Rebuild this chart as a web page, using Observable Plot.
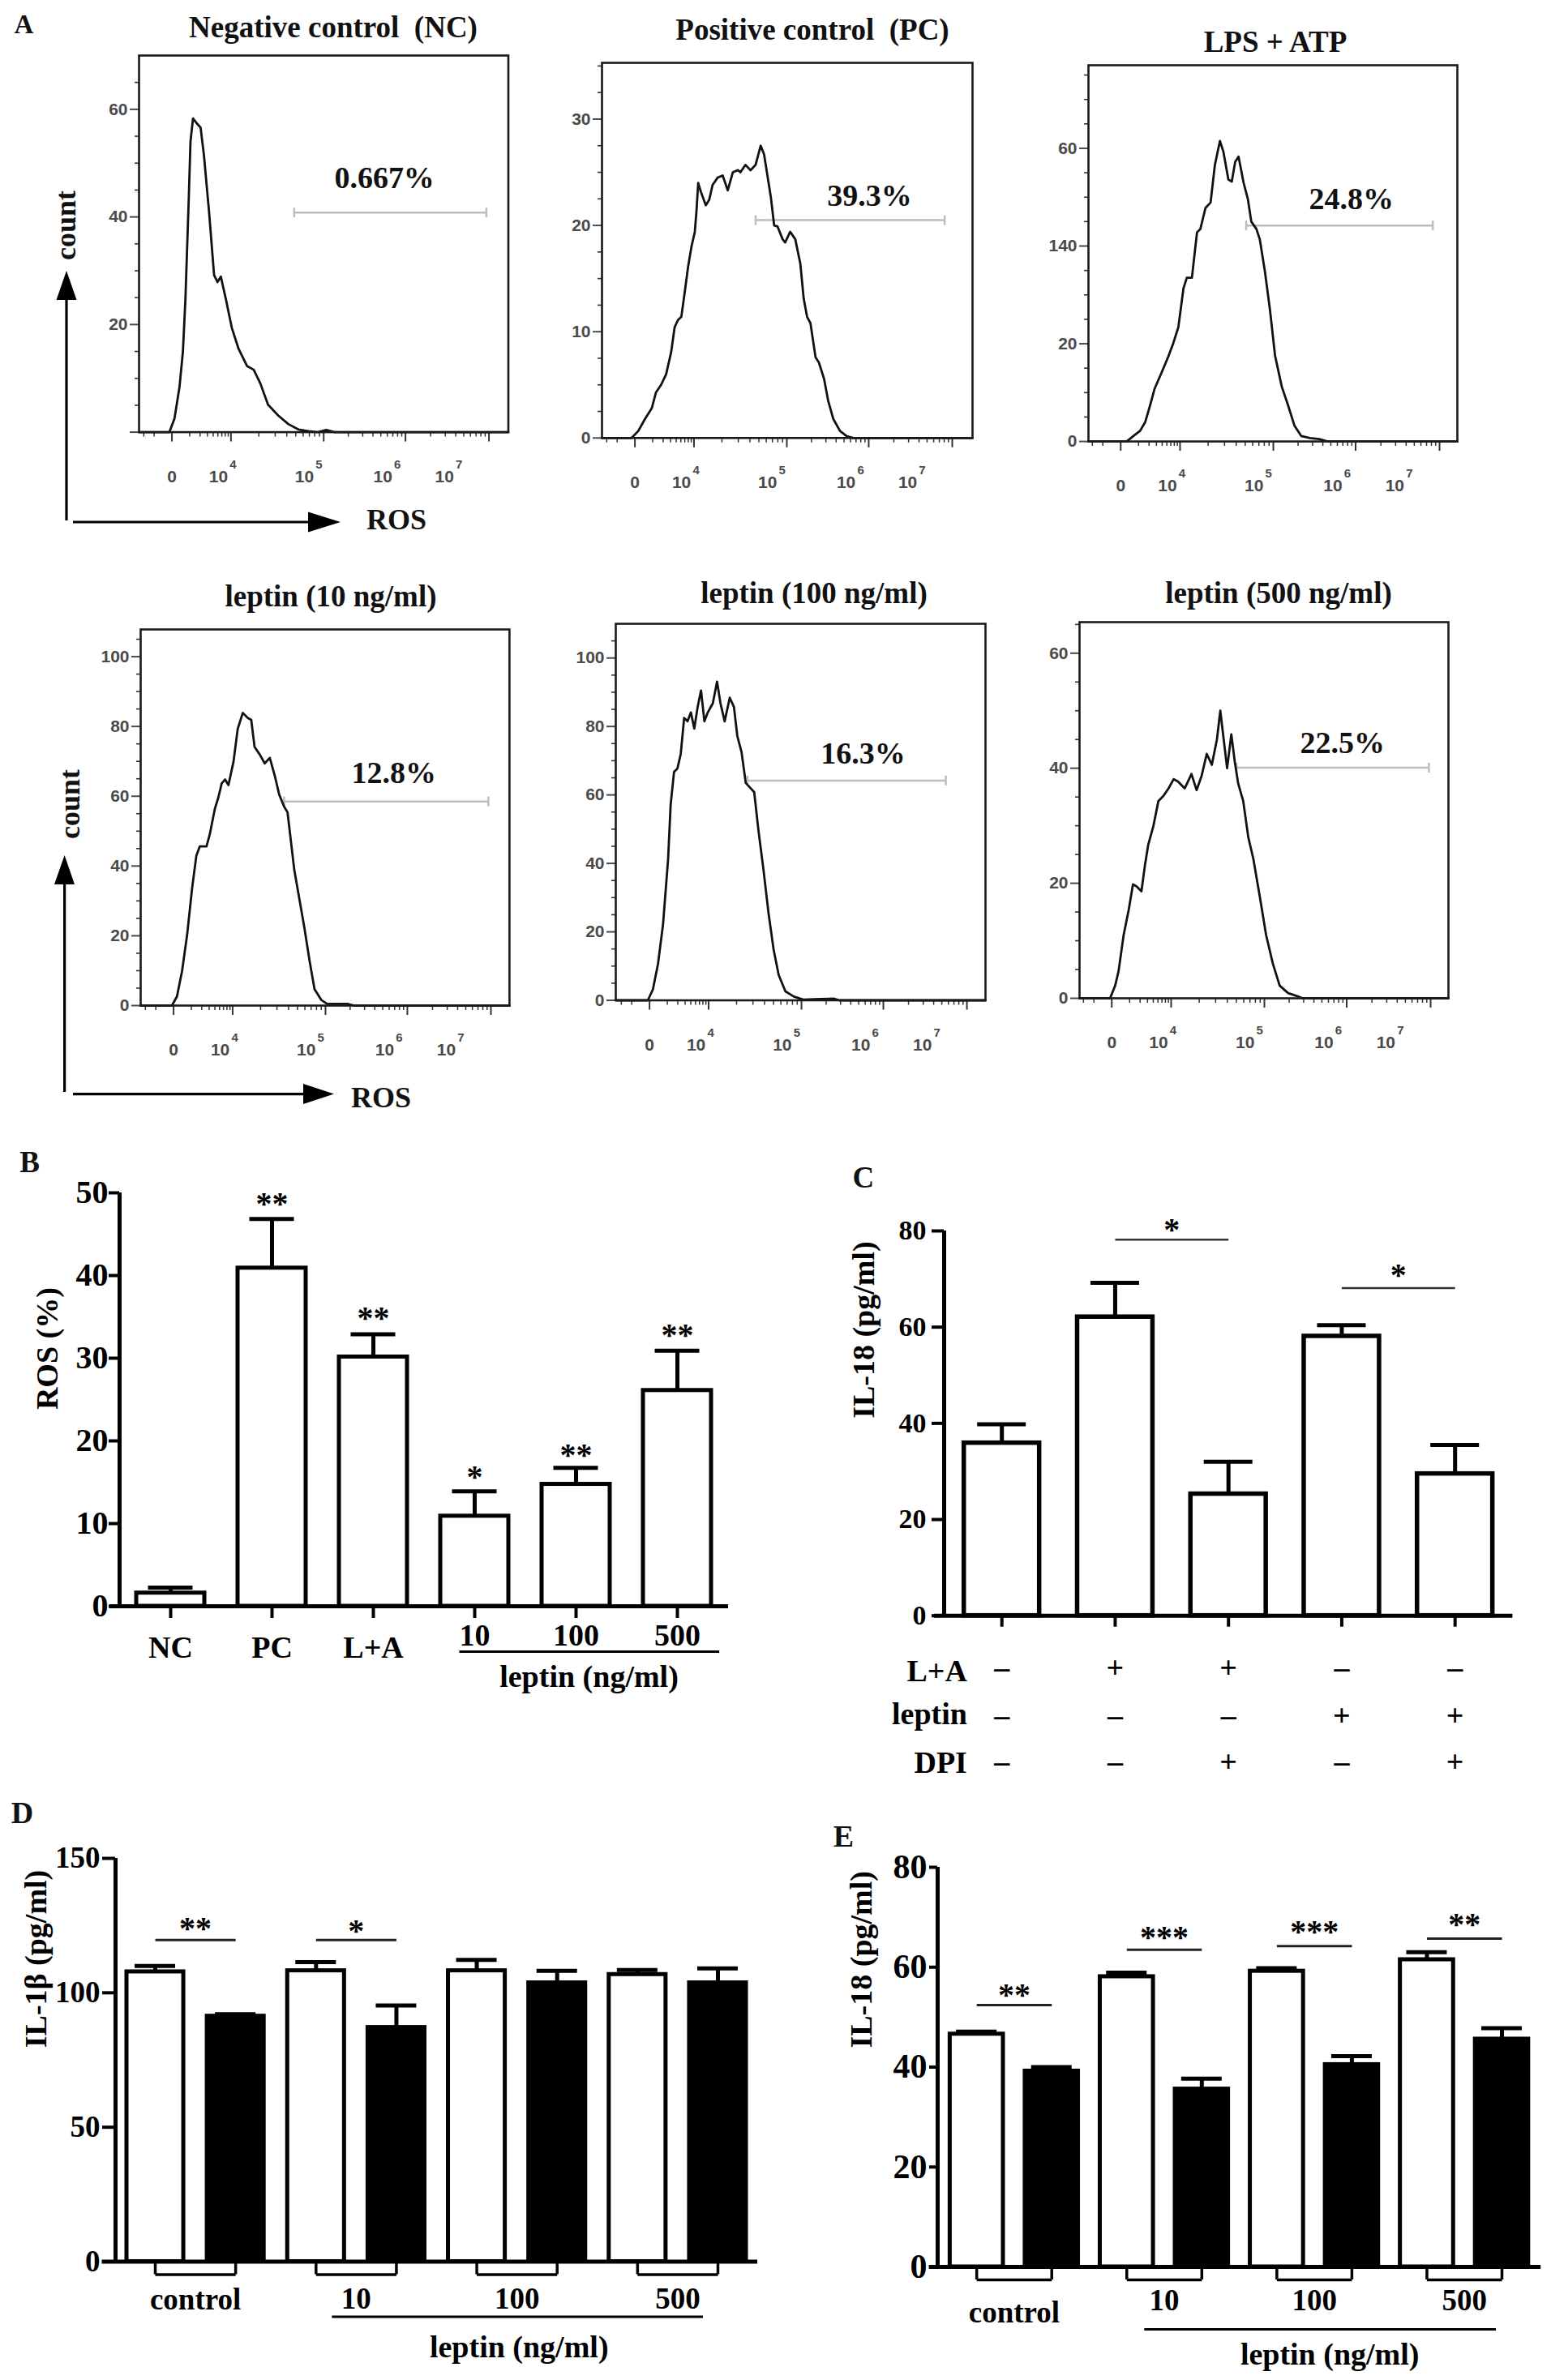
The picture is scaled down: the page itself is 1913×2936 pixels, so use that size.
<!DOCTYPE html>
<html>
<head>
<meta charset="utf-8">
<script src="https://cdn.jsdelivr.net/npm/d3@7"></script>
<script src="https://cdn.jsdelivr.net/npm/@observablehq/plot@0.6"></script>
<style>
  html, body { margin: 0; padding: 0; background: #fff; }
  body { width: 1913px; height: 2936px; overflow: hidden; }
  #root { position: relative; width: 1913px; height: 2936px; background: #fff; overflow: hidden; }
  .lbl { position: absolute; font-family: "Liberation Serif", "Times New Roman", serif; font-weight: bold; color: #111; white-space: pre; line-height: 1; transform: translate(-50%, -50%); }
</style>
</head>
<body>
<div id="root"></div>
<script>
// ======================= DATA =======================
// Panel A : ROS flow-cytometry histograms. x = ROS display channel (0 … 10^7 axis), y = count
const xDecadeTicks = [0, 70, 180, 277, 376];          // channel of 0, 10^4, 10^5, 10^6, 10^7 ticks
const xLabelPos  = [0, 60, 162, 255, 328];            // channel where the tick labels sit
const xLabelBase = ["0", "10", "10", "10", "10"];
const xLabelExp  = ["", "4", "5", "6", "7"];

const histTitles = ["Negative control  (NC)", "Positive control  (PC)", "LPS + ATP",
                    "leptin (10 ng/ml)", "leptin (100 ng/ml)", "leptin (500 ng/ml)"];

const ncCurve = [[-39,0],[-3,0],[3,2.5],[9,8.4],[13,14.9],[16,24.7],[20,43.6],[22,54.0],[25,58.3],[30,57.3],[34,56.6],[38,51.4],[44,41.0],[50,29.2],[54,27.9],[58,28.9],[64,24.7],[71,19.4],[79,15.5],[89,12.3],[97,11.6],[105,9.0],[114,5.1],[126,3.1],[138,1.5],[150,0.5],[162,0.2],[173,0],[183,0.4],[193,0],[399,0]];
const pcCurve = [[-39,0],[-4,0],[4,0.66],[12,1.8],[20,2.8],[25,4.3],[31,5.0],[37,6.0],[43,8.1],[47,10.4],[51,11.1],[55,11.4],[59,13.7],[63,16.1],[67,18.0],[71,19.4],[73,21.4],[75,24.0],[78,23.2],[84,21.9],[88,22.4],[92,23.8],[98,24.5],[104,24.7],[110,23.3],[116,25.0],[122,25.2],[125,25.0],[131,25.7],[137,25.2],[143,25.7],[149,27.5],[153,26.7],[157,24.7],[161,22.7],[165,20.0],[169,19.9],[175,18.7],[178,18.4],[184,19.4],[190,18.7],[196,16.4],[200,13.1],[204,11.4],[208,10.8],[214,7.6],[218,7.1],[224,5.6],[229,3.5],[235,1.8],[243,0.66],[251,0.17],[259,0],[400,0]];
const laCurve = [[-38,0],[7,0],[15,1.1],[23,2.2],[29,4.0],[35,7.6],[40,10.8],[48,14.0],[56,17.3],[62,20.1],[68,23.4],[74,31.3],[78,33.5],[84,33.5],[90,42.8],[94,43.5],[100,47.8],[106,48.9],[111,56.5],[117,61.5],[121,59.4],[127,53.6],[131,53.2],[135,57.2],[139,58.3],[145,52.9],[150,49.6],[154,45.0],[160,43.5],[164,41.4],[170,34.9],[176,27.0],[182,17.6],[190,11.2],[197,7.6],[205,3.2],[213,1.1],[223,0.7],[234,0.5],[244,0],[397,0]];
const lep10Curve = [[-39,0],[-2,0],[4,2.6],[10,9.8],[16,20.2],[22,33.7],[27,43.0],[31,45.6],[39,45.6],[43,49.2],[49,56.5],[53,59.6],[57,63.7],[61,64.8],[65,63.2],[71,69.9],[76,79.3],[82,83.9],[88,82.4],[92,81.9],[96,74.1],[102,72.0],[108,69.4],[114,71.0],[120,65.8],[125,60.6],[131,57.0],[135,55.4],[139,47.2],[143,38.9],[149,30.6],[155,22.3],[161,13.0],[167,4.7],[175,1.6],[182,0.5],[206,0.5],[214,0],[398,0]];
const lep100Curve = [[-40,0],[-2,0],[4,3.2],[10,10.6],[16,22.2],[22,41.3],[25,57.1],[29,66.7],[33,67.7],[37,72.0],[41,82.5],[45,81.5],[49,84.1],[53,79.4],[57,85.7],[61,90.5],[65,81.5],[69,84.1],[75,86.8],[80,93.1],[84,86.8],[89,81.5],[95,88.4],[100,85.7],[104,77.2],[109,72.5],[114,63.5],[120,61.9],[124,60.8],[129,49.7],[135,38.1],[141,25.4],[147,14.8],[153,7.4],[161,2.6],[171,1.1],[182,0.2],[218,0.5],[225,0],[398,0]];
const lep500Curve = [[-38,0],[-2,0],[4,2.2],[8,4.7],[14,11.0],[20,15.4],[25,19.8],[29,19.5],[35,18.6],[39,23.0],[43,26.7],[49,29.9],[55,34.3],[61,35.2],[67,36.5],[73,38.1],[78,37.7],[86,36.5],[94,39.0],[100,36.2],[106,38.7],[112,42.5],[118,40.6],[124,45.0],[128,50.0],[132,45.0],[136,40.0],[141,45.9],[145,41.2],[149,37.4],[155,34.3],[161,28.0],[167,24.2],[175,17.3],[182,11.0],[190,6.0],[198,2.2],[208,0.9],[220,0.3],[225,0],[397,0]];
const histCurves = [ncCurve, pcCurve, laCurve, lep10Curve, lep100Curve, lep500Curve];

const histXMin = [-39, -39, -38, -39, -40, -38];
const histXMax = [399, 400, 397, 398, 398, 397];
const histYMax = [70, 35.3, 77, 107.8, 110, 65.4];
const histYTicks = [[0,20,40,60],[0,10,20,30],[0,20,40,60],[0,20,40,60,80,100],[0,20,40,60,80,100],[0,20,40,60]];
const histYLabels = [["","20","40","60"],["0","10","20","30"],["0","20","140","60"],["0","20","40","60","80","100"],["0","20","40","60","80","100"],["0","20","40","60"]];
const histYMinor = [5, 2.5, 5, 5, 5, 5];

const gatePct = ["0.667%", "39.3%", "24.8%", "12.8%", "16.3%", "22.5%"];
const gateX1 = [145, 143, 148, 131, 116, 147];
const gateX2 = [373, 367, 368, 373, 351, 374];
const gateY  = [40.8, 20.5, 44.2, 58.5, 64.2, 40.1];
const pctX   = [252, 278, 272, 261, 253, 272];
const pctY   = [47.2, 22.8, 49.6, 66.6, 72.0, 44.3];

// Panel B : ROS (%)
const bCats  = ["NC", "PC", "L+A", "10", "100", "500"];
const bMean  = [1.6, 40.9, 30.15, 10.9, 14.75, 26.1];
const bSem   = [0.65, 5.95, 2.75, 3.0, 2.0, 4.8];
const bStars = ["", "**", "**", "*", "**", "**"];
const bStarY = [0, 49.3, 35.5, 16.3, 19.0, 33.5];

// Panel C : IL-18 with DPI
const cCats   = ["ctrl", "L+A", "L+A+DPI", "leptin", "leptin+DPI"];
const cMean   = [35.9, 62.1, 25.3, 58.1, 29.5];
const cSem    = [3.9, 7.1, 6.7, 2.3, 6.0];
const cLA     = ["–", "+", "+", "–", "–"];
const cLeptin = ["–", "–", "–", "+", "+"];
const cDPI    = ["–", "–", "+", "–", "+"];
const cSigFrom = ["L+A", "leptin"];
const cSigTo   = ["L+A+DPI", "leptin+DPI"];
const cSigY    = [78.2, 68.1];
const cSigStar = ["*", "*"];
const cSigStarY = [81.4, 72.0];

// Panel D : IL-1β ; Panel E : IL-18   (white = without, black = with treatment)
const groups = ["control", "10", "100", "500"];
const dWhite = [107.8, 108.2, 108.2, 106.8];
const dWhiteSem = [2.2, 3.2, 4.0, 1.7];
const dBlack = [91.3, 87.1, 103.7, 103.7];
const dBlackSem = [0.7, 8.2, 4.5, 5.4];
const dSigY = [119.6, 119.6, 0, 0];
const dStars = ["**", "*", "", ""];
const dStarY = [126.0, 125.2, 0, 0];

const eWhite = [46.6, 58.1, 59.2, 61.5];
const eWhiteSem = [0.5, 0.8, 0.6, 1.5];
const eBlack = [39.2, 35.6, 40.5, 45.6];
const eBlackSem = [0.8, 2.1, 1.7, 2.2];
const eSigY = [52.4, 63.5, 64.2, 65.7];
const eStars = ["**", "***", "***", "**"];
const eStarY = [55.6, 67.0, 68.2, 69.7];

// ======================= HELPERS =======================
const root = document.getElementById("root");
const sans = "Liberation Sans, Arial, Helvetica, sans-serif";
const serif = "Liberation Serif, Times New Roman, serif";
function place(el, left, top) {
  el.style.position = "absolute"; el.style.left = left + "px"; el.style.top = top + "px";
  root.appendChild(el);
}
function label(text, cx, cy, size, rotate) {
  const d = document.createElement("div");
  d.className = "lbl"; d.textContent = text;
  d.style.left = cx + "px"; d.style.top = cy + "px"; d.style.fontSize = size + "px";
  if (rotate) d.style.transform = `translate(-50%,-50%) rotate(${rotate}deg)`;
  root.appendChild(d);
}
function bandGeom(L, R, n, pi, po) {
  const step = (R - L) / (n - pi + 2 * po);
  const bw = step * (1 - pi);
  return {step, bw, c: i => L + po * step + bw / 2 + i * step};
}
const plotStyle = {background: "transparent", fontFamily: serif, overflow: "visible", maxWidth: "none", color: "#000"};

// minor log ticks of the flow axis
const xMinor = [];
for (let j = 0; j < xDecadeTicks.length - 1; j++) {
  const a = xDecadeTicks[j], b = xDecadeTicks[j + 1];
  for (let m = 2; m < 10; m++) xMinor.push(a + (b - a) * Math.log10(m));
}
for (let m = 2; m < 10; m++) { const v = -xDecadeTicks[1] * Math.log10(m); if (v > -38) xMinor.push(v); }

const gateCap = { draw(ctx, size) { const r = Math.sqrt(size / Math.PI); ctx.moveTo(0, -r); ctx.lineTo(0, r); } };

// ======================= PANEL A =======================
const histLayout = [
  {L: 170.5, T: 68,   R: 626,   B: 532.6, tx: 411,  ty: 33},
  {L: 742,   T: 77.2, R: 1199,  B: 540,   tx: 1002, ty: 36},
  {L: 1342,  T: 80.2, R: 1797,  B: 544.3, tx: 1573, ty: 51},
  {L: 173.4, T: 776,  R: 628.3, B: 1240,  tx: 408,  ty: 735},
  {L: 759,   T: 769,  R: 1215,  B: 1233.5,tx: 1004, ty: 731},
  {L: 1331,  T: 767,  R: 1786,  B: 1231,  tx: 1577, ty: 731}
];

histLayout.forEach((f, k) => {
  const mL = 72, mR = 12, mT = 12, mB = 80;
  const yMajor = histYTicks[k];
  const yLab = new Map(yMajor.map((t, i) => [t, histYLabels[k][i]]));
  const yMinor = d3.range(0, histYMax[k], histYMinor[k]).filter(v => !yMajor.includes(v));
  const labRows = xLabelPos.map((p, i) => ({p, base: xLabelBase[i], exp: xLabelExp[i]}));
  const gate = [{x1: gateX1[k], x2: gateX2[k], y: gateY[k]}];
  const axText = {fontFamily: sans, fontSize: 21, fontWeight: "bold", fill: "#4a4a4a", lineAnchor: "middle"};
  const svg = Plot.plot({
    width: f.R - f.L + mL + mR, height: f.B - f.T + mT + mB,
    marginLeft: mL, marginRight: mR, marginTop: mT, marginBottom: mB,
    x: {domain: [histXMin[k], histXMax[k]]},
    y: {domain: [0, histYMax[k]]},
    style: plotStyle,
    marks: [
      Plot.axisY({ticks: yMinor, tickSize: 5, tickFormat: () => "", color: "#333", strokeWidth: 1.6, label: null}),
      Plot.axisY({ticks: yMajor, tickSize: 11, tickPadding: 3, tickFormat: d => yLab.get(d), color: "#4a4a4a", strokeWidth: 2, fontFamily: sans, fontSize: 21, fontWeight: "bold", label: null}),
      Plot.axisX({ticks: xMinor, tickSize: 6, tickFormat: () => "", color: "#333", strokeWidth: 1.5, label: null}),
      Plot.axisX({ticks: xDecadeTicks, tickSize: 12, tickFormat: () => "", color: "#333", strokeWidth: 2, label: null}),
      Plot.text(labRows.filter(d => !d.exp), {x: "p", text: "base", frameAnchor: "bottom", dy: 55, ...axText}),
      Plot.text(labRows.filter(d => d.exp), {x: "p", text: "base", frameAnchor: "bottom", dx: -5, dy: 55, ...axText}),
      Plot.text(labRows.filter(d => d.exp), {x: "p", text: "exp", frameAnchor: "bottom", dx: 13, dy: 40, ...axText, fontSize: 15}),
      Plot.link(gate, {x1: "x1", x2: "x2", y1: "y", y2: "y", stroke: "#bdbdbd", strokeWidth: 2.5}),
      Plot.dot(gate.flatMap(g => [[g.x1, g.y], [g.x2, g.y]]), {x: d => d[0], y: d => d[1], symbol: gateCap, r: 6, stroke: "#bdbdbd", strokeWidth: 2.5, fill: "none"}),
      Plot.line(histCurves[k], {x: d => d[0], y: d => d[1], stroke: "#111", strokeWidth: 2.8, strokeLinejoin: "round"}),
      Plot.frame({stroke: "#1a1a1a", strokeWidth: 2.6}),
      Plot.text([gatePct[k]], {x: () => pctX[k], y: () => pctY[k], fontSize: 38, fontWeight: "bold", fill: "#111"})
    ]
  });
  place(svg, f.L - mL, f.T - mT);
  label(histTitles[k], f.tx, f.ty, 37);
});

// arrows + axis words of panel A
root.insertAdjacentHTML("beforeend", `<svg xmlns="http://www.w3.org/2000/svg" width="1913" height="1400" style="position:absolute;left:0;top:0;pointer-events:none">
<g stroke="#000" stroke-width="3.2" fill="#000">
<line x1="82" y1="642" x2="82" y2="366"/><polygon points="82,334 69.5,370 94.5,370" stroke="none"/>
<line x1="90" y1="644" x2="382" y2="644"/><polygon points="420,644 380,631.5 380,656.5" stroke="none"/>
<line x1="79.6" y1="1347" x2="79.6" y2="1088"/><polygon points="79.6,1055 67,1091 92,1091" stroke="none"/>
<line x1="90" y1="1349.6" x2="377" y2="1349.6"/><polygon points="412,1349.6 374,1337 374,1362" stroke="none"/>
</g></svg>`);
label("count", 80.6, 278, 36, -90);
label("ROS", 489, 641, 36);
label("count", 86, 992, 36, -90);
label("ROS", 470, 1354, 36);

label("A", 29.5, 30.4, 33);
label("B", 36.7, 1433, 37);
label("C", 1064.8, 1452, 37);
label("D", 27.5, 2236.4, 38);
label("E", 1040.5, 2264.5, 38);

// ======================= PANEL B =======================
{
  const f = {L: 147, T: 1471.4, R: 898, B: 1981.4};
  const pi = 0.328, po = 0.168;
  const g = bandGeom(f.L, f.R, bCats.length, pi, po);
  const mL = 147, mR = 20, mT = 70, mB = 110;
  const rows = bCats.map((c, i) => ({c, v: bMean[i], e: bMean[i] + bSem[i], s: bStars[i], sy: bStarY[i]}));
  const cap = (g.bw - 55) / 2;
  const bt = {frameAnchor: "bottom", lineAnchor: "middle", fontSize: 38, fontWeight: "bold"};
  const svg = Plot.plot({
    width: f.R - f.L + mL + mR, height: f.B - f.T + mT + mB,
    marginLeft: mL, marginRight: mR, marginTop: mT, marginBottom: mB,
    x: {type: "band", domain: bCats, paddingInner: pi, paddingOuter: po, round: false},
    y: {domain: [0, 50]},
    style: plotStyle,
    marks: [
      Plot.ruleX(rows, {x: "c", y1: "v", y2: "e", strokeWidth: 5}),
      Plot.tickY(rows, {x: "c", y: "e", strokeWidth: 5, insetLeft: cap, insetRight: cap}),
      Plot.barY(rows, {x: "c", y: "v", fill: "white", stroke: "black", strokeWidth: 5}),
      Plot.text(rows.filter(d => d.s), {x: "c", y: "sy", text: "s", dy: 7, fontSize: 40, fontWeight: "bold"}),
      Plot.ruleY([0], {strokeWidth: 5, insetLeft: -12}),
      Plot.ruleX([bCats[0]], {x: d => d, dx: -(g.c(0) - f.L), strokeWidth: 5}),
      Plot.axisY({ticks: [0, 10, 20, 30, 40, 50], tickSize: 13, tickPadding: 1, fontSize: 40, fontWeight: "bold", strokeWidth: 4, color: "#000", label: null}),
      Plot.axisX({tickSize: 15, tickFormat: () => "", strokeWidth: 4, color: "#000", label: null}),
      Plot.text(bCats.slice(0, 3), {x: d => d, dy: 51, ...bt}),
      Plot.text(bCats.slice(3), {x: d => d, dy: 36, ...bt}),
      Plot.ruleY([0], {dy: 56, insetLeft: g.c(3) - 18.5 - f.L, insetRight: f.R - (g.c(5) + 52), strokeWidth: 3}),
      Plot.text(["leptin (ng/ml)"], {x: () => bCats[4], dx: 16, dy: 87, ...bt}),
      Plot.text(["ROS (%)"], {frameAnchor: "left", rotate: -90, dx: -89, dy: 12.6, fontSize: 38, fontWeight: "bold"})
    ]
  });
  place(svg, f.L - mL, f.T - mT);
}

// ======================= PANEL C =======================
{
  const f = {L: 1163.6, T: 1518.3, R: 1865, B: 1993};
  const pi = 0.335, po = 0.177;
  const g = bandGeom(f.L, f.R, cCats.length, pi, po);
  const mL = 130, mR = 20, mT = 60, mB = 205;
  const rows = cCats.map((c, i) => ({c, v: cMean[i], e: cMean[i] + cSem[i], la: cLA[i], lep: cLeptin[i], dpi: cDPI[i]}));
  const sig = cSigFrom.map((a, i) => ({a, b: cSigTo[i], y: cSigY[i], s: cSigStar[i], sy: cSigStarY[i]}));
  const cap = (g.bw - 60) / 2;
  const tbl = {frameAnchor: "bottom", lineAnchor: "middle", fontSize: 38, fontWeight: "bold"};
  const rowLab = {frameAnchor: "bottom-left", lineAnchor: "middle", textAnchor: "end", dx: 28.4, fontSize: 38, fontWeight: "bold"};
  const svg = Plot.plot({
    width: f.R - f.L + mL + mR, height: f.B - f.T + mT + mB,
    marginLeft: mL, marginRight: mR, marginTop: mT, marginBottom: mB,
    x: {type: "band", domain: cCats, paddingInner: pi, paddingOuter: po, round: false},
    y: {domain: [0, 80]},
    style: plotStyle,
    marks: [
      Plot.ruleX(rows, {x: "c", y1: "v", y2: "e", strokeWidth: 5}),
      Plot.tickY(rows, {x: "c", y: "e", strokeWidth: 5, insetLeft: cap, insetRight: cap}),
      Plot.barY(rows, {x: "c", y: "v", fill: "white", stroke: "black", strokeWidth: 5.5}),
      Plot.link(sig, {x1: "a", x2: "b", y1: "y", y2: "y", stroke: "#333", strokeWidth: 2.5}),
      Plot.text(sig, {x: "a", dx: g.step / 2, y: "sy", dy: 7, text: "s", fontSize: 40, fontWeight: "bold"}),
      Plot.ruleY([0], {strokeWidth: 5, insetLeft: -12}),
      Plot.ruleX([cCats[0]], {x: d => d, dx: -(g.c(0) - f.L), strokeWidth: 5}),
      Plot.axisY({ticks: [0, 20, 40, 60, 80], tickSize: 15, tickPadding: 7, fontSize: 34, fontWeight: "bold", strokeWidth: 4, color: "#000", label: null}),
      Plot.axisX({tickSize: 14, tickFormat: () => "", strokeWidth: 4, color: "#000", label: null}),
      Plot.text(["L+A"], {...rowLab, dy: 69}),
      Plot.text(["leptin"], {...rowLab, dy: 122}),
      Plot.text(["DPI"], {...rowLab, dy: 182}),
      Plot.text(rows, {x: "c", text: "la", dy: 65, ...tbl}),
      Plot.text(rows, {x: "c", text: "lep", dy: 124, ...tbl}),
      Plot.text(rows, {x: "c", text: "dpi", dy: 181, ...tbl}),
      Plot.text(["IL-18 (pg/ml)"], {frameAnchor: "left", rotate: -90, dx: -99, dy: -6, fontSize: 38, fontWeight: "bold"})
    ]
  });
  place(svg, f.L - mL, f.T - mT);
}

// ======================= PANELS D & E =======================
function groupedPanel(p) {
  const {f, pi, po, white, whiteSem, black, blackSem, sigY, stars, starY, yMax, yTicks, tickFont, tickSize, capW,
         ctrlDy, numDy, ulDy, ulL, ulR, lepDy, lepDx, yLabel, yLabDx, yLabDy, axisExt, mL, mB} = p;
  const ids = groups.flatMap(gr => [gr + " w", gr + " b"]);
  const g = bandGeom(f.L, f.R, ids.length, pi, po);
  const mR = 15, mT = 70;
  const rows = groups.flatMap((gr, i) => [
    {id: gr + " w", white: true, v: white[i], e: white[i] + whiteSem[i]},
    {id: gr + " b", white: false, v: black[i], e: black[i] + blackSem[i]}
  ]);
  const sig = groups.map((gr, i) => ({a: gr + " w", b: gr + " b", y: sigY[i], s: stars[i], sy: starY[i]})).filter(d => d.s);
  const pairs = groups.map(gr => ({a: gr + " w", b: gr + " b"}));
  const cap = (g.bw - capW) / 2;
  const txt = {frameAnchor: "bottom", lineAnchor: "middle", fontSize: 37, fontWeight: "bold"};
  const svg = Plot.plot({
    width: f.R - f.L + mL + mR, height: f.B - f.T + mT + mB,
    marginLeft: mL, marginRight: mR, marginTop: mT, marginBottom: mB,
    x: {type: "band", domain: ids, paddingInner: pi, paddingOuter: po, round: false},
    y: {domain: [0, yMax]},
    style: plotStyle,
    marks: [
      Plot.ruleX(rows, {x: "id", y1: "v", y2: "e", strokeWidth: 5}),
      Plot.tickY(rows, {x: "id", y: "e", strokeWidth: 5, insetLeft: cap, insetRight: cap}),
      Plot.barY(rows.filter(d => d.white), {x: "id", y: "v", fill: "white", stroke: "black", strokeWidth: 5}),
      Plot.barY(rows.filter(d => !d.white), {x: "id", y: "v", fill: "black", stroke: "black", strokeWidth: 5}),
      Plot.link(sig, {x1: "a", x2: "b", y1: "y", y2: "y", stroke: "#222", strokeWidth: 3}),
      Plot.text(sig, {x: "a", dx: g.step / 2, y: "sy", dy: 7, text: "s", fontSize: 40, fontWeight: "bold"}),
      Plot.ruleY([0], {strokeWidth: 5, insetLeft: -axisExt}),
      Plot.ruleX([ids[0]], {x: d => d, dx: -(g.c(0) - f.L), strokeWidth: 5}),
      Plot.axisY({ticks: yTicks, tickSize, tickPadding: 3, fontSize: tickFont, fontWeight: "bold", strokeWidth: 4, color: "#000", label: null}),
      Plot.axisX({tickSize: 16, tickFormat: () => "", strokeWidth: 3.5, color: "#000", label: null}),
      Plot.link(pairs, {x1: "a", x2: "b", y1: () => 0, y2: () => 0, dy: 16, strokeWidth: 3.5}),
      Plot.text(groups.slice(0, 1), {x: d => d + " w", dx: g.step / 2, dy: ctrlDy, ...txt}),
      Plot.text(groups.slice(1), {x: d => d + " w", dx: g.step / 2, dy: numDy, ...txt}),
      Plot.ruleY([0], {dy: ulDy, insetLeft: g.c(2) + ulL - f.L, insetRight: f.R - (g.c(7) - ulR), strokeWidth: 3}),
      Plot.text(["leptin (ng/ml)"], {x: () => groups[2] + " w", dx: g.step / 2 + lepDx, dy: lepDy, ...txt, fontSize: 38}),
      Plot.text([yLabel], {frameAnchor: "left", rotate: -90, dx: yLabDx, dy: yLabDy, fontSize: 38, fontWeight: "bold"})
    ]
  });
  place(svg, f.L - mL, f.T - mT);
}

groupedPanel({
  f: {L: 142, T: 2291.5, R: 934, B: 2789}, pi: 0.293, po: 0.141,
  white: dWhite, whiteSem: dWhiteSem, black: dBlack, blackSem: dBlackSem,
  sigY: dSigY, stars: dStars, starY: dStarY,
  yMax: 150, yTicks: [0, 50, 100, 150], tickFont: 37, tickSize: 16, capW: 50,
  ctrlDy: 47, numDy: 46, ulDy: 68, ulL: 20, ulR: 18, lepDy: 106, lepDx: 2.6,
  yLabel: "IL-1β (pg/ml)", yLabDx: -97.6, yLabDy: -15, axisExt: 16.5, mL: 135, mB: 145
});

groupedPanel({
  f: {L: 1155.8, T: 2303, R: 1900, B: 2796}, pi: 0.291, po: 0.166,
  white: eWhite, whiteSem: eWhiteSem, black: eBlack, blackSem: eBlackSem,
  sigY: eSigY, stars: eStars, starY: eStarY,
  yMax: 80, yTicks: [0, 20, 40, 60, 80], tickFont: 42, tickSize: 10, capW: 50,
  ctrlDy: 56.5, numDy: 42, ulDy: 77, ulL: 22, ulR: 7, lepDy: 108, lepDx: 19,
  yLabel: "IL-18 (pg/ml)", yLabDx: -93.8, yLabDy: -23.5, axisExt: 10.4, mL: 130, mB: 140
});
</script>
</body>
</html>
